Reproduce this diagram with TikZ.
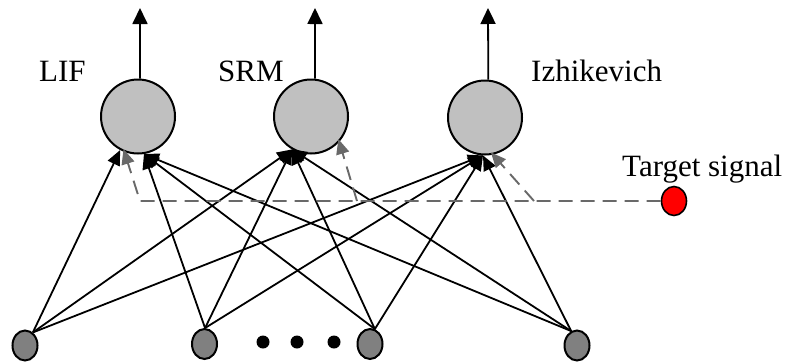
\documentclass[tikz,border=0pt]{standalone}
\usepackage{fontspec}
\setmainfont{Liberation Serif}
\usetikzlibrary{shapes.geometric,arrows.meta}
\definecolor{somagray}{RGB}{192,192,192}
\definecolor{inputgray}{RGB}{128,128,128}
\definecolor{teachgray}{RGB}{105,105,105}
\begin{document}
\begin{tikzpicture}[x=1pt,y=-1pt,
  neuron/.style={circle,draw,line width=2pt,fill=somagray,minimum size=74pt,inner sep=0},
  input/.style={ellipse,draw,line width=2pt,fill=inputgray,minimum width=25pt,minimum height=30pt,inner sep=0},
  target/.style={ellipse,draw,line width=1.6pt,fill=red,minimum width=25pt,minimum height=29pt,inner sep=0},
  dotnode/.style={circle,fill=black,minimum size=13pt,inner sep=0},
  lbl/.style={anchor=base west,inner sep=0,font=\fontsize{31}{31}\selectfont},
  syn/.style={line width=1.8pt,-{Triangle[length=15pt,width=13pt]}},
  spikeout/.style={line width=1.8pt,-{Triangle[length=16pt,width=15pt]}},
  teach/.style={teachgray,line width=1.9pt,dash pattern=on 14pt off 8pt},
  teacharrow/.style={teach,shorten >=-3pt,-{Triangle[length=15pt,width=13pt]}}
]
\useasboundingbox (0,0) rectangle (789,362);

% spiking neurons
\node[neuron] (lif) at (138,116.5) {};
\node[neuron] (srm) at (311,116.5) {};
\node[neuron] (izh) at (485,117.5) {};

% model names
\node[lbl] (tlif) at (39,81) {LIF};
\node[lbl] (tsrm) at (218,81) {SRM};
\node[lbl] (tizh) at (531,81) {Izhikevich};
\node[lbl] (tts)  at (622,176) {Target signal};

% output spikes
\coordinate (o1) at (140,8);
\coordinate (o2) at (315,8);
\coordinate (o3) at (488,8);
\draw[spikeout] (lif.87) -- (o1);
\draw[spikeout] (srm.84) -- (o2);
\draw[spikeout] (izh.85) -- (o3);

% input neurons
\node[input] (b1) at (25,345.5) {};
\node[input] (b2) at (204.5,344) {};
\node[input] (b3) at (370,344) {};
\node[input] (b4) at (577,345.5) {};
\node[dotnode] (d1) at (263,342) {};
\node[dotnode] (d2) at (297,342) {};
\node[dotnode] (d3) at (334,342) {};

% target signal
\node[target] (ts) at (674,201) {};

% synapses
\draw[syn] (b1.59) -- (lif.-118);
\draw[syn] (b1.59) -- (srm.-120);
\draw[syn] (b1.59) -- (izh.-93);
\draw[syn] (b2.88) -- (lif.-81);
\draw[syn] (b2.88) -- (srm.-120);
\draw[syn] (b2.88) -- (izh.-93);
\draw[syn] (b3.72) -- (lif.-81);
\draw[syn] (b3.72) -- (srm.-120);
\draw[syn] (b3.72) -- (izh.-93);
\draw[syn] (b4.112) -- (lif.-81);
\draw[syn] (b4.112) -- (srm.-120);
\draw[syn] (b4.112) -- (izh.-93);

% teaching signal
\coordinate (j1) at (140,201);
\coordinate (j2) at (357,201);
\coordinate (j3) at (534,201);
\draw[teacharrow] (ts.west) -- (j1) -- (lif.-111);
\draw[teacharrow] (j2) -- (srm.-42);
\draw[teacharrow] (j3) -- (izh.-78);
\end{tikzpicture}
\end{document}
